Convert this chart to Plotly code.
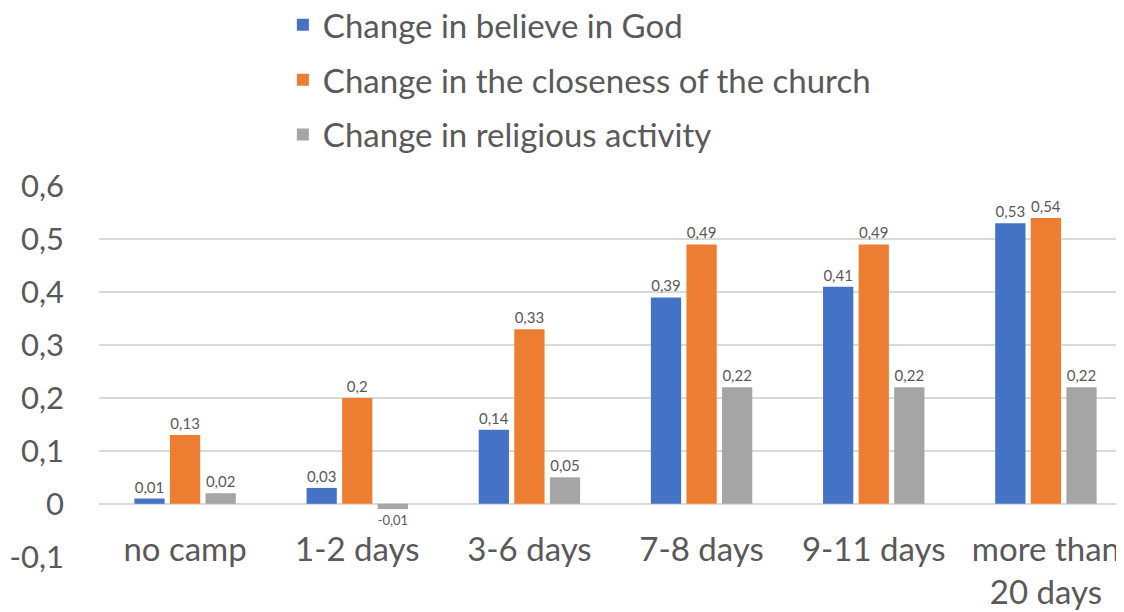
import plotly.graph_objects as go

categories = ["no camp", "1-2 days", "3-6 days", "7-8 days", "9-11 days", "more than<br>20 days"]
believe_god = [0.01, 0.03, 0.14, 0.39, 0.41, 0.53]
closeness_church = [0.13, 0.20, 0.33, 0.49, 0.49, 0.54]
religious_activity = [0.02, -0.01, 0.05, 0.22, 0.22, 0.22]
series_names = ["Change in believe in God", "Change in the closeness of the church", "Change in religious activity"]
tick_values = [-0.1, 0, 0.1, 0.2, 0.3, 0.4, 0.5, 0.6]
tick_labels = ["-0,1", "0", "0,1", "0,2", "0,3", "0,4", "0,5", "0,6"]

colors = ["#4472C4", "#ED7D31", "#A5A5A5"]
FONT = "Lato, Open Sans, sans-serif"


def fmt(v):
    s = f"{v:g}"
    return s.replace(".", ",")


fig = go.Figure()
for i, (name, vals) in enumerate(zip(series_names, [believe_god, closeness_church, religious_activity])):
    fig.add_trace(go.Bar(
        x=categories, y=vals, name=name,
        marker=dict(color=colors[i], line=dict(width=0)),
        text=[fmt(v) for v in vals],
        textposition="outside",
        textfont=dict(size=15, color="#595959", family=FONT),
        cliponaxis=False,
        legendgroup=f"g{i}",
    ))

fig.update_layout(
    width=1124, height=612,
    paper_bgcolor="white", plot_bgcolor="white",
    margin=dict(l=91, r=0, t=178, b=0, autoexpand=False),
    barmode="group", bargap=0.38, bargroupgap=0.15,
    font=dict(family=FONT, color="#595959"),
    separators=",.",
    showlegend=True,
    legend=dict(
        x=0.178, y=1.436, xanchor="left", yanchor="top",
        orientation="v",
        font=dict(size=33, color="#595959", family=FONT),
        tracegroupgap=9,
        bgcolor="rgba(0,0,0,0)",
    ),
)
fig.update_xaxes(
    showgrid=False, showline=False, zeroline=False,
    tickfont=dict(size=33, color="#595959", family=FONT),
    ticks="", automargin=False,
    anchor="free", position=0.2143,
)
fig.update_yaxes(
    domain=[0.1452, 1],
    range=[-0.1005, 0.6005],
    tickvals=tick_values, ticktext=tick_labels,
    showgrid=True, gridcolor="#D9D9D9", gridwidth=1.5,
    zeroline=True, zerolinecolor="#D9D9D9", zerolinewidth=1.5,
    showline=False, ticks="",
    tickfont=dict(size=31, color="#595959", family=FONT),
    ticklabelstandoff=34,
    automargin=False,
)

fig.write_html("out.html")
